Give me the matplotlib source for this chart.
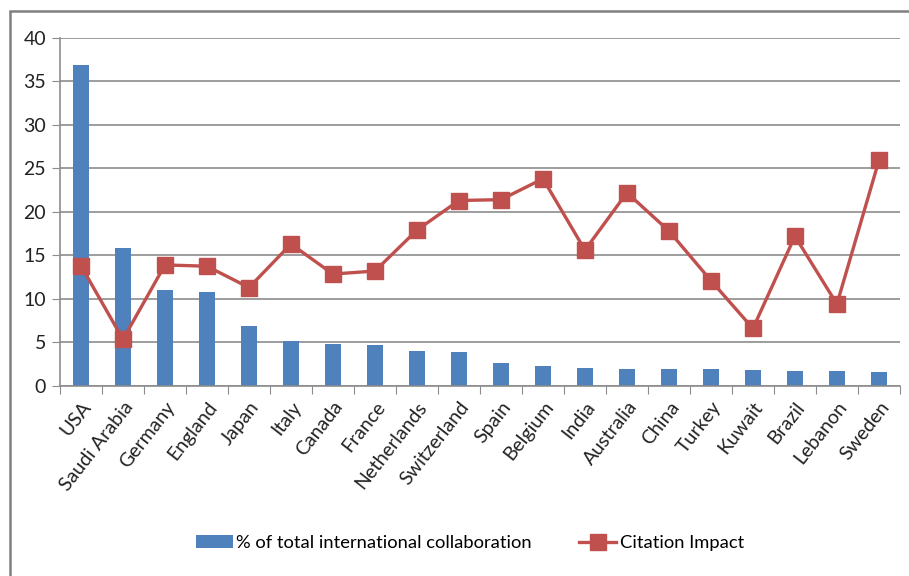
import matplotlib
matplotlib.use("Agg")
import matplotlib.pyplot as plt
from matplotlib.patches import Rectangle
import numpy as np

plt.rcParams['font.family'] = ['Lato', 'DejaVu Sans']

countries = ['USA', 'Saudi Arabia', 'Germany', 'England', 'Japan', 'Italy', 'Canada',
             'France', 'Netherlands', 'Switzerland', 'Spain', 'Belgium', 'India',
             'Australia', 'China', 'Turkey', 'Kuwait', 'Brazil', 'Lebanon', 'Sweden']
collab_pct = [36.9, 15.9, 11.0, 10.8, 6.9, 5.2, 4.85, 4.7, 4.05, 3.93,
              2.64, 2.26, 2.1, 1.98, 1.98, 1.96, 1.83, 1.72, 1.72, 1.6]
citation_impact = [13.8, 5.35, 13.9, 13.75, 11.3, 16.3, 12.85, 13.2, 17.9, 21.3,
                   21.4, 23.8, 15.6, 22.2, 17.8, 12.1, 6.6, 17.2, 9.4, 25.9]

blue = '#4F81BD'
red = '#C0504D'
grid = '#8C8C8C'

fig = plt.figure(figsize=(9.09, 5.76), dpi=100)
ax = fig.add_axes([0.066, 0.330, 0.924, 0.6045])

x = np.arange(len(countries))
bars = ax.bar(x, collab_pct, width=0.4, color=blue, zorder=2,
              label='% of total international collaboration')
line, = ax.plot(x, citation_impact, color=red, lw=2.4, marker='s', ms=11,
                markeredgecolor=red, zorder=3, label='Citation Impact')

ax.set_xlim(-0.5, len(countries) - 0.5)
ax.set_ylim(0, 40)
ax.set_yticks(range(0, 41, 5))
ax.yaxis.grid(True, color=grid, lw=1.2, zorder=0)
ax.tick_params(axis='y', length=6, color=grid, labelsize=14, labelcolor='#222222', pad=4)

# category labels between ticks
ax.set_xticks(np.arange(-0.5, len(countries), 1))
ax.set_xticklabels([])
ax.tick_params(axis='x', length=6, color=grid, direction='out')
ax.set_xticks(x, minor=True)
ax.set_xticklabels(countries, minor=True, rotation=52, ha='right',
                   rotation_mode='anchor', fontsize=14, color='#222222')
ax.tick_params(axis='x', which='minor', length=0, pad=9)

for s in ['top', 'right']:
    ax.spines[s].set_visible(False)
for s in ['left', 'bottom']:
    ax.spines[s].set_color(grid)
    ax.spines[s].set_linewidth(1.2)

fig.legend(handles=[bars, line], loc='center', bbox_to_anchor=(0.517, 1 - 543 / 576),
           ncol=2, frameon=False, fontsize=13.2, handlelength=2.0, handletextpad=0.2,
           columnspacing=2.6)

# outer chart frame
fig.add_artist(Rectangle((10 / 909, -0.1), 1.2, 1 - 11 / 576 + 0.1,
                         transform=fig.transFigure, fill=False,
                         edgecolor='#808080', lw=1.8))

fig.savefig('out.png', dpi=100)
